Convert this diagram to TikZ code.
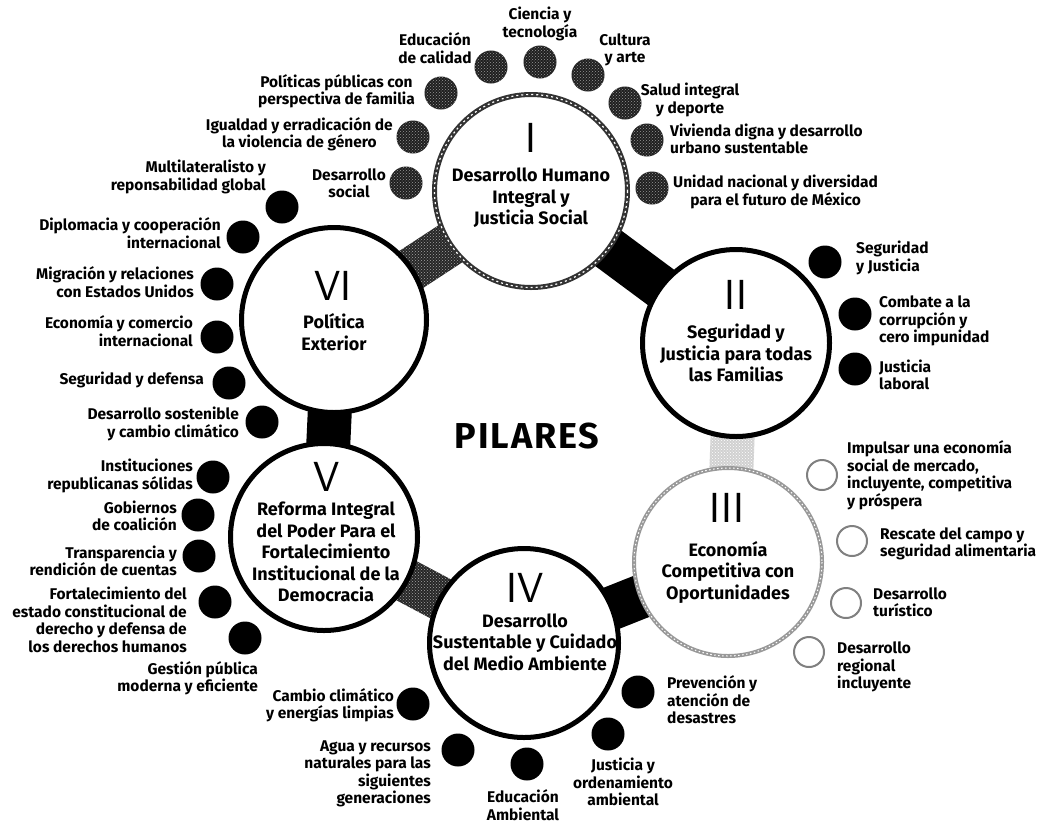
\documentclass[tikz,border=0pt]{standalone}
\usepackage{fontspec}
\usepackage{graphicx}
\setmainfont{Fira Sans}
\usetikzlibrary{calc,patterns}
\newcommand\texband[3]{%
  \fill[#3] ($(#1)!22pt!90:(#2)$) -- ($(#2)!22pt!-90:(#1)$) -- ($(#2)!22pt!90:(#1)$) -- ($(#1)!22pt!-90:(#2)$) -- cycle;}
\begin{document}
\begin{tikzpicture}[x=1pt,y=-1pt,
  mainc/.style={circle, fill=white, draw=black, line width=5pt, inner sep=0pt, minimum size=#1},
  bband/.style={line width=44pt, draw=black},
  tex/.style={fill=black!85, postaction={pattern=crosshatch dots, pattern color=black!35}},
  ltex/.style={fill=black!18, postaction={pattern=crosshatch dots, pattern color=white}},
  sat/.style={circle, fill=black, inner sep=0pt, minimum size=33pt},
  tsat/.style={circle, fill=black!88, inner sep=0pt, minimum size=33pt, postaction={pattern=crosshatch dots, pattern color=black!40}},
  lsat/.style={circle, fill=white, draw=black!50, line width=2pt, inner sep=0pt, minimum size=30pt},
  lab/.style={font=\bfseries\fontsize{15.5}{17.5}\selectfont, inner sep=0pt},
  labR/.style={lab, align=right, anchor=east},
  labL/.style={lab, align=left, anchor=west},
  labC/.style={lab, align=center},
  mtext/.style={font=\bfseries\fontsize{18}{21.5}\selectfont, align=center, inner sep=0pt},
  num/.style={font=\sffamily\fontsize{42}{42}\selectfont, inner sep=0pt}
]
\useasboundingbox (0,0) rectangle (1043,823);
\fill[white] (0,0) rectangle (1043,823);

% centres of the six pillars
\coordinate (cI) at (531,191);
\coordinate (cII) at (736,343);
\coordinate (cIII) at (728,562);
\coordinate (cIV) at (524,643);
\coordinate (cV) at (324,537);
\coordinate (cVI) at (334,320);

% bands between pillars
\draw[bband] (cI) -- (cII);
\draw[bband] (cIII) -- (cIV);
\draw[bband] (cV) -- (cVI);
\texband{cVI}{cI}{tex}
\texband{cIV}{cV}{tex}
\texband{cII}{cIII}{ltex}

% pillar circles
\node[mainc=193, draw=black!80] (I) at (cI) {};
\draw[white, line width=1.2pt, dash pattern=on 2pt off 3pt] (cI) circle (96.5);
\node[mainc=187] (II) at (cII) {};
\node[mainc=188, draw=black!40, line width=4pt] (III) at (cIII) {};
\draw[white, line width=1pt, dash pattern=on 1.5pt off 2.5pt] (cIII) circle (94);
\node[mainc=189] (IV) at (cIV) {};
\node[mainc=187] (V) at (cV) {};
\node[mainc=185] (VI) at (cVI) {};

% pillar texts
\node[num] (nI) at (531,138) {I};
\node[mtext] (tI) at (531,198) {Desarrollo Humano\\Integral y\\Justicia Social};
\node[num] (nII) at (736,295) {II};
\node[mtext] (tII) at (736,353) {Seguridad y\\Justicia para todas\\las Familias};
\node[num] (nIII) at (727,508) {III};
\node[mtext] (tIII) at (728,572) {Economía\\Competitiva con\\Oportunidades};
\node[num] (nIV) at (525,588) {IV};
\node[mtext] (tIV) at (525,642) {Desarrollo\\Sustentable y Cuidado\\del Medio Ambiente};
\node[num] (nV) at (327,477) {V};
\node[mtext] (tV) at (326,552) {Reforma Integral\\del Poder Para el\\Fortalecimiento\\Institucional de la\\Democracia};
\node[num] (nVI) at (333,286) {VI};
\node[mtext] (tVI) at (334,332) {Política\\Exterior};

\node[font=\bfseries\fontsize{36}{36}\selectfont\addfontfeature{LetterSpace=5}] (pil) at (527,436) {PILARES};

% satellites of I
\node[tsat] (s1) at (491,67) {};
\node[labC] (l1) at (435,48) {Educación\\de calidad};
\node[tsat] (s2) at (540,62) {};
\node[labC] (l2) at (540,24) {Ciencia y\\tecnología};
\node[tsat] (s3) at (588,75) {};
\node[labC] (l3) at (625,50) {Cultura\\y arte};
\node[tsat] (s4) at (625,103) {};
\node[labC] (l4) at (690,100) {Salud integral\\y deporte};
\node[tsat] (s5) at (647,140) {};
\node[labL] (l5) at (670,139) {Vivienda digna y desarrollo\\urbano sustentable};
\node[tsat] (s6) at (652,188) {};
\node[lab, align=center, anchor=west] (l6) at (673,192) {Unidad nacional y diversidad\\para el futuro de México};
\node[tsat] (s7) at (441,93) {};
\node[lab, align=center, anchor=east] (l7) at (415,91) {Políticas públicas con\\perspectiva de familia};
\node[tsat] (s8) at (413,137) {};
\node[lab, align=center, anchor=east] (l8) at (393,134) {Igualdad y erradicación de\\la violencia de género};
\node[tsat] (s9) at (406,183) {};
\node[lab, align=center, anchor=east] (l9) at (386,183) {Desarrollo\\social};

% satellites of VI
\node[sat] (s10) at (282,207) {};
\node[labR] (l10) at (266,177) {Multilateralisto y\\reponsabilidad global};
\node[sat] (s11) at (243,237) {};
\node[labR] (l11) at (221,233) {Diplomacia y cooperación\\internacional};
\node[sat] (s12) at (217,284) {};
\node[labR] (l12) at (194,282) {Migración y relaciones\\con Estados Unidos};
\node[sat] (s13) at (217,337) {};
\node[labR] (l13) at (193,331) {Economía y comercio\\internacional};
\node[sat] (s14) at (229,383) {};
\node[labR] (l14) at (204,380) {Seguridad y defensa};
\node[sat] (s15) at (262,422) {};
\node[labR] (l15) at (239,424) {Desarrollo sostenible\\y cambio climático};

% satellites of V
\node[sat] (s16) at (213,477) {};
\node[labR] (l16) at (193,476) {Instituciones\\republicanas sólidas};
\node[sat] (s17) at (198,515) {};
\node[labR] (l17) at (177,516) {Gobiernos\\de coalición};
\node[sat] (s18) at (199,556) {};
\node[labR] (l18) at (177,561) {Transparencia y\\rendición de cuentas};
\node[sat] (s19) at (215,602) {};
\node[labR] (l19) at (187,620) {Fortalecimiento del\\estado constitucional de\\derecho y defensa de\\los derechos humanos};
\node[sat] (s20) at (245,638) {};
\node[labR] (l20) at (258,678) {Gestión pública\\moderna y eficiente};

% satellites of IV
\node[sat] (s21) at (413,704) {};
\node[labR] (l21) at (394,705) {Cambio climático\\y energías limpias};
\node[sat] (s22) at (458,750) {};
\node[labR] (l22) at (431,774) {Agua y recursos\\naturales para las\\siguientes\\generaciones};
\node[sat] (s23) at (527,764) {};
\node[labC] (l23) at (523,805) {Educación\\Ambiental};
\node[sat] (s24) at (608,734) {};
\node[labC] (l24) at (623,782) {Justicia y\\ordenamiento\\ambiental};
\node[sat] (s25) at (638,692) {};
\node[labL] (l25) at (667,700) {Prevención y\\atención de\\desastres};

% satellites of III
\node[lsat] (s26) at (822,475) {};
\node[labL] (l26) at (847,475) {Impulsar una economía\\social de mercado,\\incluyente, competitiva\\y próspera};
\node[lsat] (s27) at (852,541) {};
\node[labL] (l27) at (880,544) {Rescate del campo y\\seguridad alimentaria};
\node[lsat] (s28) at (846,603) {};
\node[labL] (l28) at (873,602) {Desarrollo\\turístico};
\node[lsat] (s29) at (809,652) {};
\node[labL] (l29) at (837,667) {Desarrollo\\regional\\incluyente};

% satellites of II
\node[sat] (s30) at (825,262) {};
\node[labL] (l30) at (856,258) {Seguridad\\y Justicia};
\node[sat] (s31) at (855,314) {};
\node[labL] (l31) at (879,321) {Combate a la\\corrupción y\\cero impunidad};
\node[sat] (s32) at (855,369) {};
\node[labL] (l32) at (879,375) {Justicia\\laboral};
\end{tikzpicture}
\end{document}
